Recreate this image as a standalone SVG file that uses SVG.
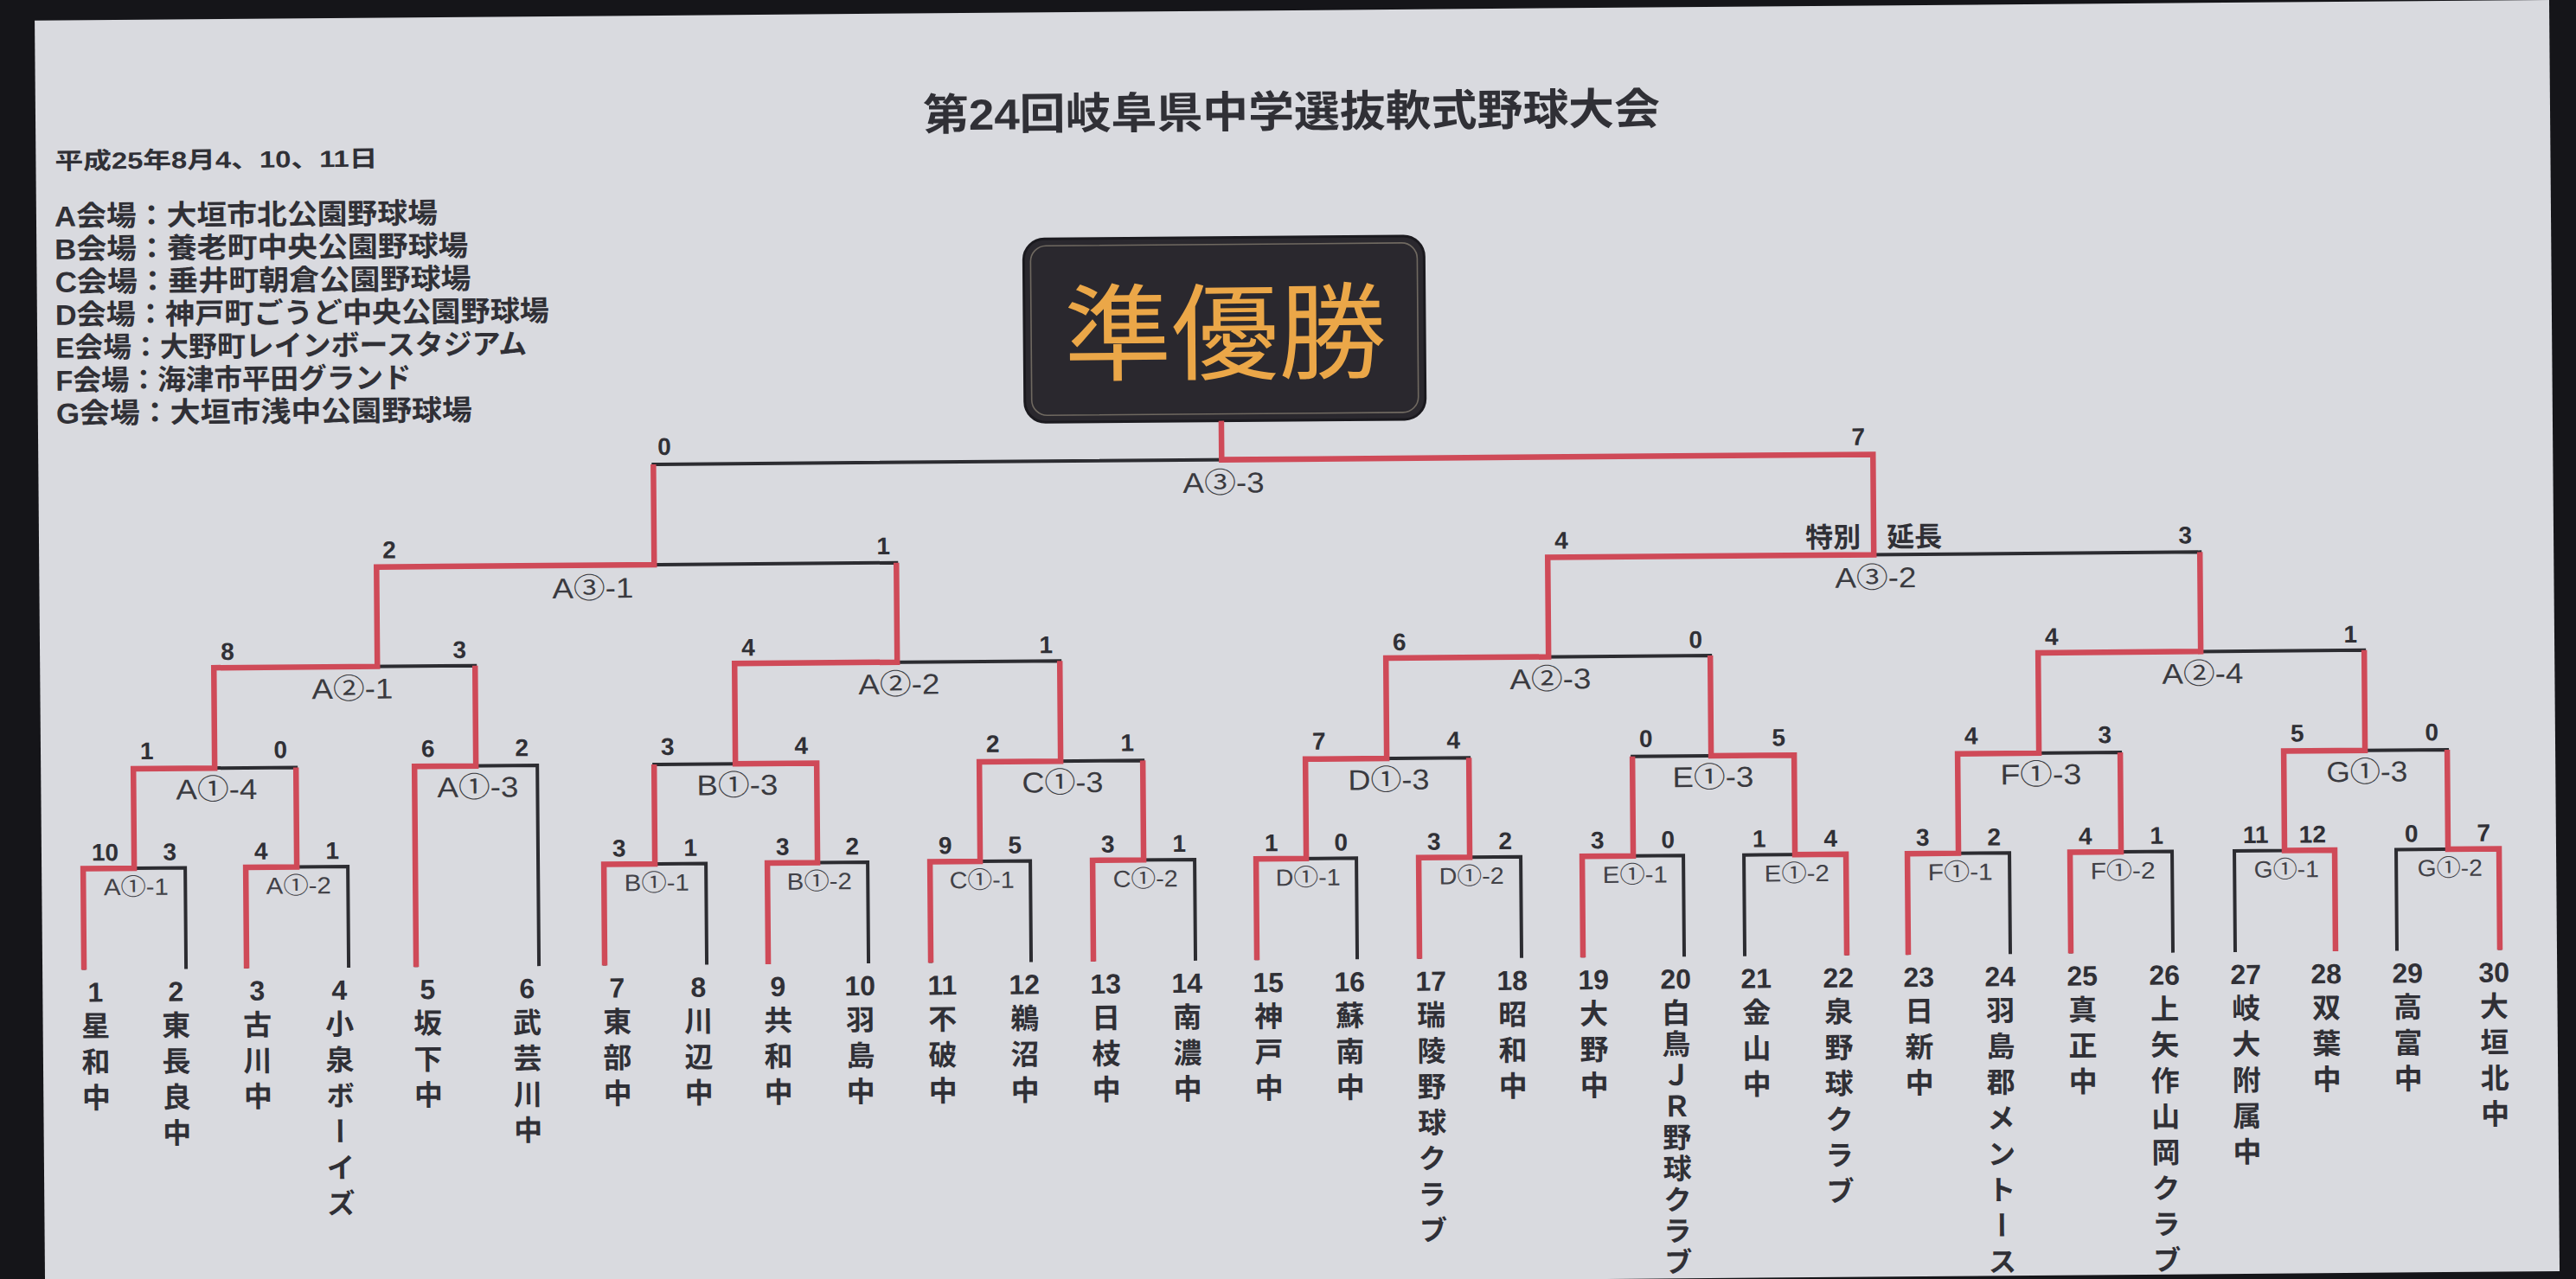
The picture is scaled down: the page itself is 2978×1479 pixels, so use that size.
<svg xmlns="http://www.w3.org/2000/svg" width="2978" height="1479" viewBox="0 0 2978 1479">
<style>
.bk{stroke:#2c2c31;stroke-width:4;fill:none;stroke-linejoin:miter}
.rd{stroke:#cf4a58;stroke-width:6.5;fill:none;stroke-linejoin:miter}
.hd{font-family:'Liberation Sans','Noto Sans CJK JP',sans-serif;font-weight:bold;fill:#303036}
.sc{font-family:'Liberation Sans','Noto Sans CJK JP',sans-serif;font-size:28px;font-weight:bold;fill:#303036}
.sl{text-anchor:start}
.sr{text-anchor:end}
.l1{font-family:'Liberation Sans','Noto Sans CJK JP',sans-serif;font-size:27px;fill:#414147;text-anchor:middle}
.l2{font-family:'Liberation Sans','Noto Sans CJK JP',sans-serif;font-size:33px;fill:#3a3a40;text-anchor:middle}
.num{font-family:'Liberation Sans',sans-serif;font-size:32px;font-weight:bold;fill:#303036;text-anchor:middle}
.nm{font-family:'Noto Sans CJK JP',sans-serif;font-size:33px;font-weight:bold;fill:#303036;writing-mode:vertical-rl;letter-spacing:8.5px}
</style>
<rect width="2978" height="1479" fill="#151519"/>
<g transform="rotate(-0.47 1489 740)">
<rect x="46" y="12" width="2907" height="1470" fill="#d9dadf"/>
<g id="header">
<text class="hd" x="1072" y="147" font-size="50" textLength="852" lengthAdjust="spacingAndGlyphs">第24回岐阜県中学選抜軟式野球大会</text>
<text class="hd" x="68" y="184" font-size="27" textLength="373" lengthAdjust="spacingAndGlyphs">平成25年8月4、10、11日</text>
<text class="hd" x="67" y="250" font-size="33" textLength="443" lengthAdjust="spacingAndGlyphs">A会場：大垣市北公園野球場</text>
<text class="hd" x="67" y="288" font-size="33" textLength="478" lengthAdjust="spacingAndGlyphs">B会場：養老町中央公園野球場</text>
<text class="hd" x="67" y="326" font-size="33" textLength="481" lengthAdjust="spacingAndGlyphs">C会場：垂井町朝倉公園野球場</text>
<text class="hd" x="67" y="364" font-size="33" textLength="571" lengthAdjust="spacingAndGlyphs">D会場：神戸町ごうど中央公園野球場</text>
<text class="hd" x="67" y="402" font-size="33" textLength="545" lengthAdjust="spacingAndGlyphs">E会場：大野町レインボースタジアム</text>
<text class="hd" x="67" y="440" font-size="33" textLength="411" lengthAdjust="spacingAndGlyphs">F会場：海津市平田グランド</text>
<text class="hd" x="67" y="478" font-size="33" textLength="481" lengthAdjust="spacingAndGlyphs">G会場：大垣市浅中公園野球場</text>
</g>
<g id="runner-up">
<rect x="1187" y="274" width="463" height="212" rx="24" fill="#2a282e" stroke="#1b1a1f" stroke-width="3"/>
<rect x="1195" y="282" width="447" height="196" rx="18" fill="none" stroke="#8d8576" stroke-width="1.6" opacity="0.7"/>
<text x="1419" y="429" font-family="'Noto Sans CJK JP',sans-serif" font-size="122" fill="#eba748" text-anchor="middle" textLength="372" lengthAdjust="spacingAndGlyphs">準優勝</text>
</g>
<g id="connectors">
<path class="bk" d="M94 1110V993H212V1110M282 1110V993H400V1110M478 1110V878H620V1110M153 993V878H341V993M696 1110V993H814V1110M885 1110V993H1001V1110M755 993V878H943V993M1073 1110V993H1189V1110M1261 1110V993H1379V1110M1131 993V878H1320V993M1450 1110V993H1566V1110M1638 1110V993H1756V1110M1508 993V878H1697V993M1827 1110V993H1944V1110M2014 1110V993H2132V1110M1886 993V878H2073V993M2203 1110V993H2321V1110M2391 1110V993H2509V1110M2262 993V878H2450V993M2581 1110V993H2697V1110M2768 1110V993H2887V1110M2639 993V878H2828V993M247 878V762H549V878M849 878V762H1225V878M1602 878V762H1977V878M2356 878V762H2733V878M436 762V647H1037V762M1790 762V647H2544V762M757 647V531H2167V647M1414 531V486"/>
<path class="rd" d="M94 1110V993H153V878H247V762H436V647H757V531"/>
<path class="rd" d="M282 1110V993H341V878"/>
<path class="rd" d="M478 1110V878H549V762"/>
<path class="rd" d="M696 1110V993H755V878"/>
<path class="rd" d="M885 1110V993H943V878H849V762H1037V647"/>
<path class="rd" d="M1073 1110V993H1131V878H1225V762"/>
<path class="rd" d="M1261 1110V993H1320V878"/>
<path class="rd" d="M1450 1110V993H1508V878H1602V762H1790V647H2167V531H1414V486"/>
<path class="rd" d="M1638 1110V993H1697V878"/>
<path class="rd" d="M1827 1110V993H1886V878"/>
<path class="rd" d="M2132 1110V993H2073V878H1977V762"/>
<path class="rd" d="M2203 1110V993H2262V878H2356V762H2544V647"/>
<path class="rd" d="M2391 1110V993H2450V878"/>
<path class="rd" d="M2697 1110V993H2639V878H2733V762"/>
<path class="rd" d="M2887 1110V993H2828V878"/>
</g>
<g id="matches">
<g id="m-A1-1"><text class="l1" x="155" y="1024" textLength="75" lengthAdjust="spacingAndGlyphs">A①-1</text><text class="sc sl" x="104" y="984">10</text><text class="sc sr" x="202" y="984">3</text></g>
<g id="m-A1-2"><text class="l1" x="343" y="1024" textLength="75" lengthAdjust="spacingAndGlyphs">A①-2</text><text class="sc sl" x="292" y="984">4</text><text class="sc sr" x="390" y="984">1</text></g>
<g id="m-B1-1"><text class="l1" x="757" y="1024" textLength="75" lengthAdjust="spacingAndGlyphs">B①-1</text><text class="sc sl" x="706" y="984">3</text><text class="sc sr" x="804" y="984">1</text></g>
<g id="m-B1-2"><text class="l1" x="945" y="1024" textLength="75" lengthAdjust="spacingAndGlyphs">B①-2</text><text class="sc sl" x="895" y="984">3</text><text class="sc sr" x="991" y="984">2</text></g>
<g id="m-C1-1"><text class="l1" x="1133" y="1024" textLength="75" lengthAdjust="spacingAndGlyphs">C①-1</text><text class="sc sl" x="1083" y="984">9</text><text class="sc sr" x="1179" y="984">5</text></g>
<g id="m-C1-2"><text class="l1" x="1322" y="1024" textLength="75" lengthAdjust="spacingAndGlyphs">C①-2</text><text class="sc sl" x="1271" y="984">3</text><text class="sc sr" x="1369" y="984">1</text></g>
<g id="m-D1-1"><text class="l1" x="1510" y="1024" textLength="75" lengthAdjust="spacingAndGlyphs">D①-1</text><text class="sc sl" x="1460" y="984">1</text><text class="sc sr" x="1556" y="984">0</text></g>
<g id="m-D1-2"><text class="l1" x="1699" y="1024" textLength="75" lengthAdjust="spacingAndGlyphs">D①-2</text><text class="sc sl" x="1648" y="984">3</text><text class="sc sr" x="1746" y="984">2</text></g>
<g id="m-E1-1"><text class="l1" x="1888" y="1024" textLength="75" lengthAdjust="spacingAndGlyphs">E①-1</text><text class="sc sl" x="1837" y="984">3</text><text class="sc sr" x="1934" y="984">0</text></g>
<g id="m-E1-2"><text class="l1" x="2075" y="1024" textLength="75" lengthAdjust="spacingAndGlyphs">E①-2</text><text class="sc sl" x="2024" y="984">1</text><text class="sc sr" x="2122" y="984">4</text></g>
<g id="m-F1-1"><text class="l1" x="2264" y="1024" textLength="75" lengthAdjust="spacingAndGlyphs">F①-1</text><text class="sc sl" x="2213" y="984">3</text><text class="sc sr" x="2311" y="984">2</text></g>
<g id="m-F1-2"><text class="l1" x="2452" y="1024" textLength="75" lengthAdjust="spacingAndGlyphs">F①-2</text><text class="sc sl" x="2401" y="984">4</text><text class="sc sr" x="2499" y="984">1</text></g>
<g id="m-G1-1"><text class="l1" x="2641" y="1024" textLength="75" lengthAdjust="spacingAndGlyphs">G①-1</text><text class="sc sl" x="2591" y="984">11</text><text class="sc sr" x="2687" y="984">12</text></g>
<g id="m-G1-2"><text class="l1" x="2830" y="1024" textLength="75" lengthAdjust="spacingAndGlyphs">G①-2</text><text class="sc sl" x="2778" y="984">0</text><text class="sc sr" x="2877" y="984">7</text></g>
<g id="m-A1-4"><text class="l2" x="249" y="914" textLength="94" lengthAdjust="spacingAndGlyphs">A①-4</text><text class="sc sl" x="161" y="867">1</text><text class="sc sr" x="331" y="867">0</text></g>
<g id="m-A1-3"><text class="l2" x="551" y="914" textLength="94" lengthAdjust="spacingAndGlyphs">A①-3</text><text class="sc sl" x="486" y="867">6</text><text class="sc sr" x="610" y="867">2</text></g>
<g id="m-B1-3"><text class="l2" x="851" y="914" textLength="94" lengthAdjust="spacingAndGlyphs">B①-3</text><text class="sc sl" x="763" y="867">3</text><text class="sc sr" x="933" y="867">4</text></g>
<g id="m-C1-3"><text class="l2" x="1227" y="914" textLength="94" lengthAdjust="spacingAndGlyphs">C①-3</text><text class="sc sl" x="1139" y="867">2</text><text class="sc sr" x="1310" y="867">1</text></g>
<g id="m-D1-3"><text class="l2" x="1604" y="914" textLength="94" lengthAdjust="spacingAndGlyphs">D①-3</text><text class="sc sl" x="1516" y="867">7</text><text class="sc sr" x="1687" y="867">4</text></g>
<g id="m-E1-3"><text class="l2" x="1979" y="914" textLength="94" lengthAdjust="spacingAndGlyphs">E①-3</text><text class="sc sl" x="1894" y="867">0</text><text class="sc sr" x="2063" y="867">5</text></g>
<g id="m-F1-3"><text class="l2" x="2358" y="914" textLength="94" lengthAdjust="spacingAndGlyphs">F①-3</text><text class="sc sl" x="2270" y="867">4</text><text class="sc sr" x="2440" y="867">3</text></g>
<g id="m-G1-3"><text class="l2" x="2735" y="914" textLength="94" lengthAdjust="spacingAndGlyphs">G①-3</text><text class="sc sl" x="2647" y="867">5</text><text class="sc sr" x="2818" y="867">0</text></g>
<g id="m-A2-1"><text class="l2" x="407" y="799" textLength="94" lengthAdjust="spacingAndGlyphs">A②-1</text><text class="sc sl" x="255" y="753">8</text><text class="sc sr" x="539" y="753">3</text></g>
<g id="m-A2-2"><text class="l2" x="1039" y="799" textLength="94" lengthAdjust="spacingAndGlyphs">A②-2</text><text class="sc sl" x="857" y="753">4</text><text class="sc sr" x="1217" y="753">1</text></g>
<g id="m-A2-3"><text class="l2" x="1792" y="799" textLength="94" lengthAdjust="spacingAndGlyphs">A②-3</text><text class="sc sl" x="1610" y="753">6</text><text class="sc sr" x="1968" y="753">0</text></g>
<g id="m-A2-4"><text class="l2" x="2546" y="799" textLength="94" lengthAdjust="spacingAndGlyphs">A②-4</text><text class="sc sl" x="2364" y="753">4</text><text class="sc sr" x="2725" y="753">1</text></g>
<g id="m-A3-1"><text class="l2" x="686" y="685" textLength="94" lengthAdjust="spacingAndGlyphs">A③-1</text><text class="sc sl" x="443" y="637">2</text><text class="sc sr" x="1030" y="637">1</text></g>
<g id="m-A3-2"><text class="l2" x="2169" y="685" textLength="94" lengthAdjust="spacingAndGlyphs">A③-2</text><text class="sc sl" x="1798" y="637">4</text><text class="sc sr" x="2535" y="637">3</text><text class="hd" x="2088" y="638" font-size="32">特別 <tspan x="2182">延長</tspan></text></g>
<g id="m-A3-3"><text class="l2" x="1416" y="569" textLength="94" lengthAdjust="spacingAndGlyphs">A③-3</text><text class="sc sl" x="762" y="520">0</text><text class="sc sr" x="2158" y="520">7</text></g>
</g>
<g id="teams">
<g id="t1"><text class="num" x="107" y="1147">1</text><text class="nm" x="107" y="1158">星和中</text></g>
<g id="t2"><text class="num" x="200" y="1147">2</text><text class="nm" x="200" y="1158">東長良中</text></g>
<g id="t3"><text class="num" x="294" y="1147">3</text><text class="nm" x="294" y="1158">古川中</text></g>
<g id="t4"><text class="num" x="389" y="1147">4</text><text class="nm" x="389" y="1158">小泉ボーイズ</text></g>
<g id="t5"><text class="num" x="491" y="1147">5</text><text class="nm" x="491" y="1158">坂下中</text></g>
<g id="t6"><text class="num" x="606" y="1147">6</text><text class="nm" x="606" y="1158">武芸川中</text></g>
<g id="t7"><text class="num" x="710" y="1147">7</text><text class="nm" x="710" y="1158">東部中</text></g>
<g id="t8"><text class="num" x="804" y="1147">8</text><text class="nm" x="804" y="1158">川辺中</text></g>
<g id="t9"><text class="num" x="896" y="1147">9</text><text class="nm" x="896" y="1158">共和中</text></g>
<g id="t10"><text class="num" x="991" y="1147">10</text><text class="nm" x="991" y="1158">羽島中</text></g>
<g id="t11"><text class="num" x="1086" y="1147">11</text><text class="nm" x="1086" y="1158">不破中</text></g>
<g id="t12"><text class="num" x="1181" y="1147">12</text><text class="nm" x="1181" y="1158">鵜沼中</text></g>
<g id="t13"><text class="num" x="1275" y="1147">13</text><text class="nm" x="1275" y="1158">日枝中</text></g>
<g id="t14"><text class="num" x="1369" y="1147">14</text><text class="nm" x="1369" y="1158">南濃中</text></g>
<g id="t15"><text class="num" x="1463" y="1147">15</text><text class="nm" x="1463" y="1158">神戸中</text></g>
<g id="t16"><text class="num" x="1557" y="1147">16</text><text class="nm" x="1557" y="1158">蘇南中</text></g>
<g id="t17"><text class="num" x="1651" y="1147">17</text><text class="nm" x="1651" y="1158">瑞陵野球クラブ</text></g>
<g id="t18"><text class="num" x="1745" y="1147">18</text><text class="nm" x="1745" y="1158">昭和中</text></g>
<g id="t19"><text class="num" x="1839" y="1147">19</text><text class="nm" x="1839" y="1158">大野中</text></g>
<g id="t20"><text class="num" x="1934" y="1147">20</text><text class="nm" x="1934" y="1158" style="letter-spacing:3px">白鳥ＪＲ野球クラブ</text></g>
<g id="t21"><text class="num" x="2027" y="1147">21</text><text class="nm" x="2027" y="1158">金山中</text></g>
<g id="t22"><text class="num" x="2122" y="1147">22</text><text class="nm" x="2122" y="1158">泉野球クラブ</text></g>
<g id="t23"><text class="num" x="2215" y="1147">23</text><text class="nm" x="2215" y="1158">日新中</text></g>
<g id="t24"><text class="num" x="2309" y="1147">24</text><text class="nm" x="2309" y="1158">羽島郡メントース</text></g>
<g id="t25"><text class="num" x="2404" y="1147">25</text><text class="nm" x="2404" y="1158">真正中</text></g>
<g id="t26"><text class="num" x="2499" y="1147">26</text><text class="nm" x="2499" y="1158">上矢作山岡クラブ</text></g>
<g id="t27"><text class="num" x="2593" y="1147">27</text><text class="nm" x="2593" y="1158">岐大附属中</text></g>
<g id="t28"><text class="num" x="2686" y="1147">28</text><text class="nm" x="2686" y="1158">双葉中</text></g>
<g id="t29"><text class="num" x="2780" y="1147">29</text><text class="nm" x="2780" y="1158">高富中</text></g>
<g id="t30"><text class="num" x="2880" y="1147">30</text><text class="nm" x="2880" y="1158">大垣北中</text></g>
</g>
</g>
</svg>
